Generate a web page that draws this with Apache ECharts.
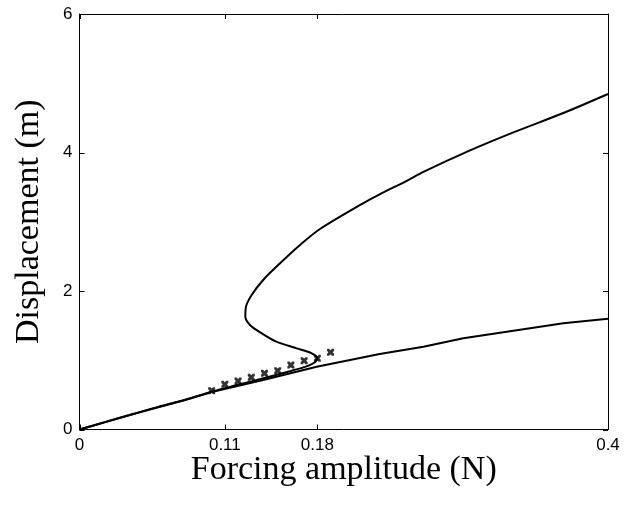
<!DOCTYPE html>
<html>
<head>
<meta charset="utf-8">
<script src="https://cdn.jsdelivr.net/npm/echarts@6/dist/echarts.min.js"></script>
<style>html,body{margin:0;padding:0;background:#fff}#c{width:624px;height:505px}</style>
</head>
<body>
<div id="c"></div>
<script>
// Branch with fold (lower part -> fold -> upper branch)
const foldX = [0, 0.02, 0.04, 0.06, 0.08, 0.10, 0.12, 0.14, 0.16, 0.17, 0.177, 0.18, 0.1758, 0.1644, 0.149, 0.137, 0.129, 0.1255, 0.126, 0.1303, 0.139, 0.1518, 0.1669, 0.182, 0.2149, 0.2275, 0.2477, 0.2603, 0.2956, 0.3284, 0.3662, 0.4];
const foldY = [0, 0.11, 0.22, 0.33, 0.43, 0.545, 0.645, 0.745, 0.845, 0.90, 0.956, 1.03, 1.10, 1.172, 1.268, 1.40, 1.509, 1.63, 1.773, 1.942, 2.159, 2.40, 2.664, 2.895, 3.27, 3.40, 3.59, 3.72, 4.03, 4.29, 4.57, 4.845];
// Lower branch
const lowX = [0, 0.04, 0.08, 0.10, 0.139, 0.1795, 0.2272, 0.2603, 0.2905, 0.3284, 0.3662, 0.4];
const lowY = [0, 0.22, 0.426, 0.54, 0.715, 0.907, 1.09, 1.196, 1.317, 1.427, 1.533, 1.60];
// Marker points
const markX = [0.10, 0.11, 0.12, 0.13, 0.14, 0.15, 0.16, 0.17, 0.18, 0.19];
const markY = [0.56, 0.653, 0.70, 0.754, 0.811, 0.849, 0.931, 0.994, 1.028, 1.115];
// Tick labels
const xTicks = [0, 0.11, 0.18, 0.4];
const yTicks = [0, 2, 4, 6];

const X_MIN = 0, X_MAX = 0.4, Y_MIN = 0, Y_MAX = 6;
const TICK = 5;
const zip = (a, b) => a.map((v, i) => [v, b[i]]);
const chart = echarts.init(document.getElementById('c'), null, {renderer: 'canvas'});
const lineAxis = {show: true, onZero: false, lineStyle: {color: '#000', width: 1}};
const tickFont = {color: '#000', fontSize: 17, fontFamily: 'Liberation Sans, Arial, sans-serif'};
const nameFont = {color: '#000', fontSize: 34, fontFamily: 'Liberation Serif, Times New Roman, serif'};
const tickStroke = {stroke: '#000', lineWidth: 1};

// inside ticks on all four sides, placed through the axes' own scales
function xTickItem(params, api) {
  const v = api.value(0);
  const b = api.coord([v, Y_MIN]), t = api.coord([v, Y_MAX]);
  const x = Math.round(b[0]) + 0.5;
  return {type: 'group', children: [
    {type: 'line', shape: {x1: x, y1: b[1], x2: x, y2: b[1] - TICK}, style: tickStroke},
    {type: 'line', shape: {x1: x, y1: t[1], x2: x, y2: t[1] + TICK}, style: tickStroke}
  ]};
}
function yTickItem(params, api) {
  const v = api.value(1);
  const l = api.coord([X_MIN, v]), r = api.coord([X_MAX, v]);
  const y = Math.round(l[1]) + 0.5;
  return {type: 'group', children: [
    {type: 'line', shape: {x1: l[0], y1: y, x2: l[0] + TICK, y2: y}, style: tickStroke},
    {type: 'line', shape: {x1: r[0], y1: y, x2: r[0] - TICK, y2: y}, style: tickStroke}
  ]};
}

chart.setOption({
  animation: false,
  backgroundColor: '#fff',
  grid: {left: 79.5, right: 16, top: 14, bottom: 75.5, containLabel: false},
  xAxis: [{
    type: 'value', min: X_MIN, max: X_MAX, position: 'bottom',
    name: 'Forcing amplitude (N)', nameLocation: 'middle', nameGap: 24, nameMoveOverlap: false, nameTextStyle: nameFont,
    axisLine: lineAxis, splitLine: {show: false}, axisTick: {show: false},
    axisLabel: Object.assign({margin: 7, customValues: xTicks, formatter: v => String(v)}, tickFont)
  }, {
    type: 'value', min: X_MIN, max: X_MAX, position: 'top',
    axisLine: lineAxis, splitLine: {show: false}, axisTick: {show: false},
    axisLabel: {show: false}
  }],
  yAxis: [{
    type: 'value', min: Y_MIN, max: Y_MAX, interval: 2, position: 'left',
    name: 'Displacement (m)', nameLocation: 'middle', nameGap: 33, nameMoveOverlap: false, nameTextStyle: nameFont,
    axisLine: lineAxis, splitLine: {show: false}, axisTick: {show: false},
    axisLabel: Object.assign({margin: 7, customValues: yTicks}, tickFont)
  }, {
    type: 'value', min: Y_MIN, max: Y_MAX, interval: 2, position: 'right',
    axisLine: lineAxis, splitLine: {show: false}, axisTick: {show: false},
    axisLabel: {show: false}
  }],
  series: [{
    type: 'line', data: zip(lowX, lowY), showSymbol: false, smooth: false,
    lineStyle: {color: '#000', width: 2}, z: 3
  }, {
    type: 'line', data: zip(foldX, foldY), showSymbol: false, smooth: 0.3,
    lineStyle: {color: '#000', width: 2}, z: 3
  }, {
    type: 'scatter', data: zip(markX, markY),
    symbol: 'path://M0,0 L3,0 L5,2 L7,0 L10,0 L10,3 L8,5 L10,7 L10,10 L7,10 L5,8 L3,10 L0,10 L0,7 L2,5 L0,3 Z',
    symbolSize: 7, itemStyle: {color: '#000'}, z: 4
  }, {
    type: 'custom', clip: false, silent: true, z: 5,
    data: xTicks.map(v => [v, Y_MIN]), renderItem: xTickItem
  }, {
    type: 'custom', clip: false, silent: true, z: 5,
    data: yTicks.map(v => [X_MIN, v]), renderItem: yTickItem
  }]
});
</script>
</body>
</html>
